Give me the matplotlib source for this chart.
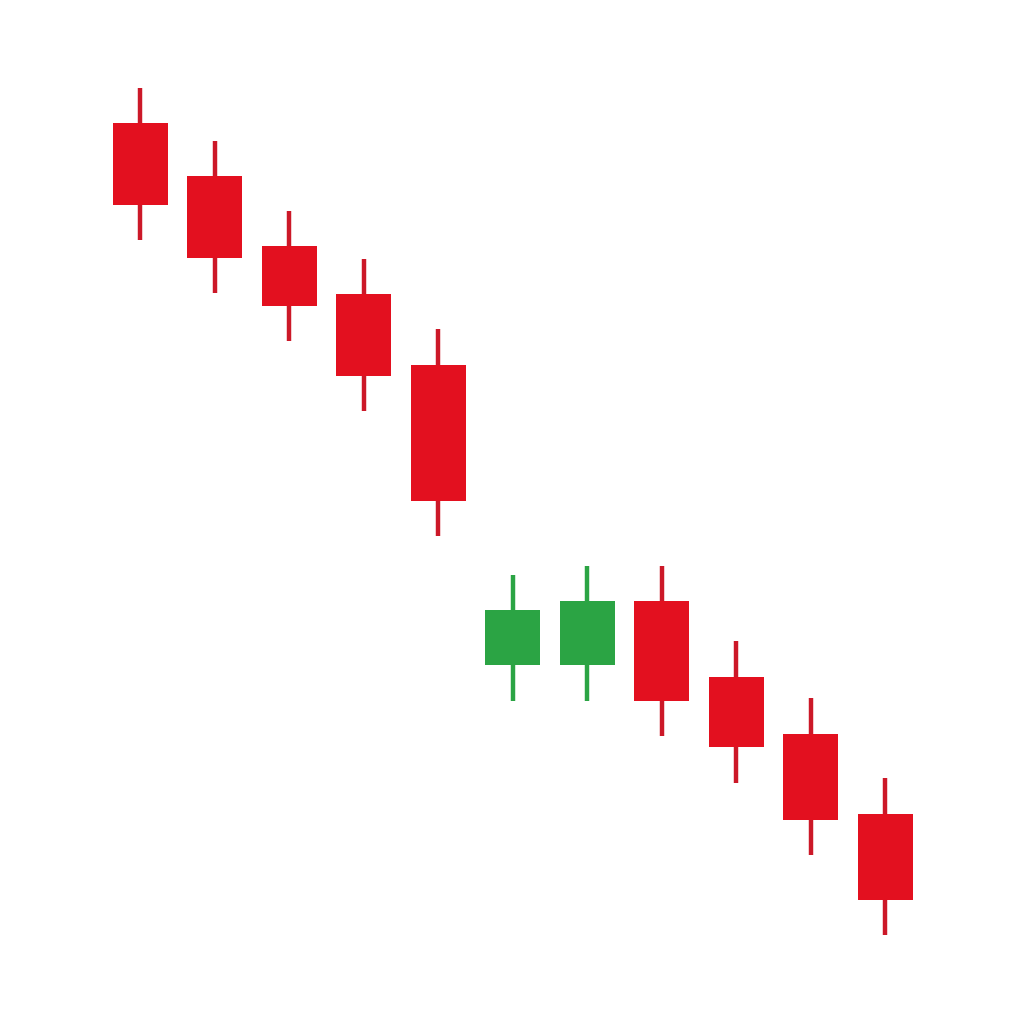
import matplotlib
matplotlib.use("Agg")
import matplotlib.pyplot as plt
from matplotlib.patches import Rectangle

# candle data (arbitrary price units)
opens = [87.7, 82.4, 75.4, 70.6, 63.5, 33.5, 33.5, 39.9, 32.3, 26.6, 18.6]
closes = [79.5, 74.2, 69.4, 62.4, 49.9, 39.0, 39.9, 29.9, 25.3, 18.0, 10.0]
highs = [91.2, 85.9, 78.9, 74.1, 67.1, 42.5, 43.4, 43.4, 35.9, 30.2, 22.2]
lows = [76.0, 70.7, 65.9, 58.9, 46.4, 29.9, 29.9, 26.4, 21.7, 14.5, 6.5]

up_color = "#2ba444"
down_color = "#e3101f"
down_wick = "#cc1828"

fig = plt.figure(figsize=(10.24, 10.24), dpi=100)
ax = fig.add_axes([0, 0, 1, 1])

body_w = 55 / 74.5
for i, (o, c, h, l) in enumerate(zip(opens, closes, highs, lows)):
    up = c >= o
    body_col = up_color if up else down_color
    wick_col = up_color if up else down_wick
    # wick
    ax.vlines(i, l, h, color=wick_col, linewidth=3.2, zorder=1)
    # body
    ax.add_patch(Rectangle((i - body_w / 2, min(o, c)), body_w, abs(c - o),
                           facecolor=body_col, edgecolor="none", zorder=2))

ax.set_xlim(-140 / 74.5, 10 + 139 / 74.5)
ax.set_ylim(-2.4, 100)
ax.axis("off")

fig.savefig("out.png", dpi=100, facecolor="white")
